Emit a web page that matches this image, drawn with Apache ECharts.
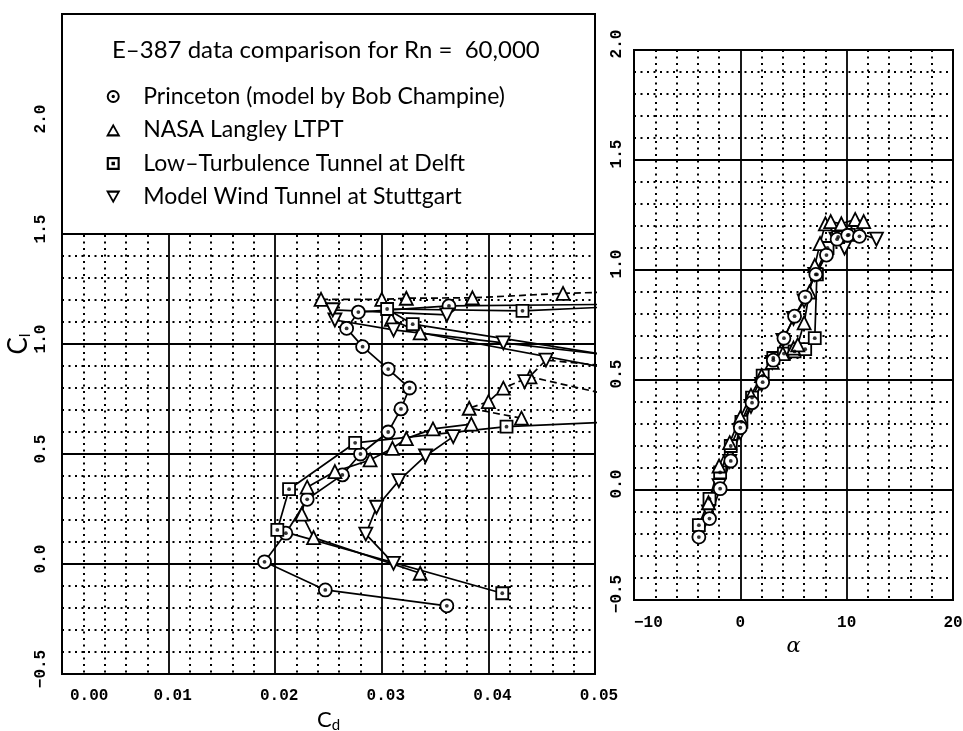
<!DOCTYPE html>
<html><head><meta charset="utf-8">
<script src="https://cdn.jsdelivr.net/npm/echarts@6/dist/echarts.min.js"></script>
<style>html,body{margin:0;padding:0;background:#fff}#c{width:963px;height:731px}</style>
</head><body><div id="c"></div>
<script>
// ---------- tick settings ----------
const cdTicks = [0, 0.01, 0.02, 0.03, 0.04, 0.05];
const alphaTicks = [-10, 0, 10, 20];
const clTicks = [-0.5, 0, 0.5, 1.0, 1.5, 2.0];

// ---------- left plot: Cl vs Cd (values > 0.05 are off-scale continuations) ----------
const princetonCd = [0.0361, 0.0247, 0.0190, 0.0210, 0.0230, 0.0263, 0.0280, 0.0306, 0.0318, 0.0326, 0.0306, 0.0282, 0.0267, 0.0278, 0.0363, 0.0512];
const princetonCl = [-0.19, -0.118, 0.01, 0.14, 0.294, 0.405, 0.50, 0.60, 0.705, 0.80, 0.886, 0.988, 1.071, 1.145, 1.173, 1.18];

const nasaLowCd = [0.0336, 0.0236, 0.0225, 0.0230, 0.0256, 0.0289, 0.0310, 0.0323, 0.0348, 0.0384];
const nasaLowCl = [-0.042, 0.12, 0.227, 0.349, 0.42, 0.473, 0.526, 0.57, 0.614, 0.636];
const nasaMidCd = [0.0431, 0.0382, 0.0400, 0.0414, 0.0439, 0.0512];
const nasaMidCl = [0.663, 0.708, 0.738, 0.799, 0.851, 0.77];
const nasaTopCd = [0.0243, 0.0300, 0.0323, 0.0385, 0.0470, 0.0512];
const nasaTopCl = [1.203, 1.203, 1.208, 1.21, 1.23, 1.236];
const nasaStallCd = [0.0309, 0.0336, 0.0512];
const nasaStallCl = [1.112, 1.051, 0.89];

const delftLowCd = [0.0413, 0.0202, 0.0213, 0.0275, 0.0417, 0.0512];
const delftLowCl = [-0.133, 0.155, 0.34, 0.551, 0.624, 0.645];
const delftTopCd = [0.0512, 0.0329, 0.0305, 0.0432, 0.0512];
const delftTopCl = [0.95, 1.09, 1.159, 1.151, 1.168];

const stuttLowCd = [0.0311, 0.0285, 0.0295, 0.0316, 0.0341, 0.0367];
const stuttLowCl = [0.003, 0.136, 0.258, 0.379, 0.491, 0.579];
const stuttMidCd = [0.0434, 0.0454, 0.0512];
const stuttMidCl = [0.829, 0.927, 0.90];
const stuttTopCd = [0.0254, 0.0256, 0.0311, 0.0414, 0.0512];
const stuttTopCl = [1.155, 1.109, 1.064, 1.005, 0.95];
const stuttTop2Cd = [0.0254, 0.0361];
const stuttTop2Cl = [1.155, 1.132];

// ---------- right plot: Cl vs alpha ----------
const princetonA = [-3.9, -2.9, -1.9, -0.9, 0.0, 1.1, 2.1, 3.1, 4.1, 5.1, 6.1, 7.1, 8.1, 9.1, 10.1, 11.2];
const princetonClA = [-0.214, -0.13, 0.006, 0.132, 0.283, 0.397, 0.49, 0.59, 0.69, 0.79, 0.877, 0.98, 1.068, 1.14, 1.158, 1.153];
const nasaA = [-3.0, -2.0, -1.0, 0.0, 1.0, 2.0, 3.0, 4.0, 5.0, 5.4, 6.0, 6.5, 7.0, 7.5, 8.0, 8.5, 9.5, 10.8, 11.6];
const nasaClA = [-0.058, 0.109, 0.215, 0.33, 0.43, 0.52, 0.58, 0.62, 0.645, 0.66, 0.76, 0.90, 1.02, 1.12, 1.21, 1.22, 1.21, 1.23, 1.22];
const delftA = [-3.9, -2.9, -1.9, -0.9, 0.1, 1.1, 2.1, 3.1, 4.1, 5.1, 6.1, 7.0, 7.2, 8.2, 9.2, 10.2];
const delftClA = [-0.16, -0.04, 0.08, 0.20, 0.31, 0.42, 0.52, 0.60, 0.62, 0.63, 0.64, 0.69, 0.98, 1.10, 1.15, 1.16];
const stuttA = [-3.0, -2.0, -1.0, 0.0, 1.0, 2.0, 3.0, 4.0, 5.0, 6.0, 7.0, 8.0, 9.0, 9.8, 11.0, 12.8];
const stuttClA = [-0.10, 0.02, 0.13, 0.26, 0.38, 0.48, 0.58, 0.68, 0.78, 0.86, 0.98, 1.08, 1.14, 1.10, 1.17, 1.14];

// ---------- labels ----------
const titleText = 'E–387 data comparison for Rn =  60,000';
const N_PR = 'Princeton (model by Bob Champine)';
const N_NA = 'NASA Langley LTPT';
const N_DE = 'Low–Turbulence Tunnel at Delft';
const N_ST = 'Model Wind Tunnel at Stuttgart';

// ---------- helpers ----------
const CD_MAX = 0.05;
function pairs(xs, ys, left) {
  return xs.map((x, i) => (left && x > CD_MAX) ? { value: [x, ys[i]], symbol: 'none' } : [x, ys[i]]);
}
function inRange(xs, ys, left) {
  const out = [];
  xs.forEach((x, i) => { if (!(left && x > CD_MAX)) out.push([x, ys[i]]); });
  return out;
}
const SYM = { circle: ['circle', 0], tri: ['triangle', 0], rect: ['rect', 0], dtri: ['triangle', 180] };
function lineS(name, xs, ys, sym, gi, dashed) {
  const left = gi === 0;
  const s = SYM[sym];
  return {
    type: 'line', name, xAxisIndex: gi, yAxisIndex: gi,
    data: pairs(xs, ys, left), symbol: s[0], symbolRotate: s[1],
    symbolSize: sym === 'rect' ? 12 : 13,
    showAllSymbol: true, clip: false, animation: false, silent: true,
    itemStyle: { color: '#fff', borderColor: '#000', borderWidth: 1.8 },
    lineStyle: { color: '#000', width: 1.7, type: dashed ? [7, 4] : 'solid' },
    z: 3
  };
}
function dotS(name, xs, ys, gi) {
  return {
    type: 'scatter', name, xAxisIndex: gi, yAxisIndex: gi,
    data: inRange(xs, ys, gi === 0), symbol: 'circle', symbolSize: 3.8,
    itemStyle: { color: '#000' }, animation: false, silent: true, z: 4
  };
}

const gridLine = { show: true, lineStyle: { color: '#000', width: 1.8 } };
const minorLine = { show: true, lineStyle: { color: '#000', width: 2, type: [2, 4.5] } };
const lblFont = { fontFamily: 'Liberation Mono', fontSize: 16, fontWeight: 'bold', color: '#000' };
function fmt1(v) { const t = Math.abs(v).toFixed(1); return v < 0 ? '−' + t : t; }

const xLeft = {
  type: 'value', gridIndex: 0, min: cdTicks[0], max: cdTicks[cdTicks.length - 1], interval: 0.01,
  axisLine: { show: false }, axisTick: { show: false },
  splitLine: gridLine, minorTick: { show: false, splitNumber: 5 }, minorSplitLine: minorLine,
  axisLabel: Object.assign({ margin: 14, padding: [0, 0, 0, 8], alignMinLabel: 'left',
    formatter: v => cdTicks.some(t => Math.abs(t - v) < 1e-9) ? v.toFixed(2) : '' }, lblFont),
  name: '{c|C}{s|d}', nameLocation: 'middle', nameGap: 32, nameMoveOverlap: false,
  nameTextStyle: { rich: { c: { fontFamily: 'Lato', fontSize: 22, color: '#000' }, s: { fontFamily: 'Lato', fontSize: 15, color: '#000', padding: [12, 0, 0, 0] } } }
};
const yLeft = {
  type: 'value', gridIndex: 0, min: -0.5, max: 2.5, interval: 0.5,
  axisLine: { show: false }, axisTick: { show: false },
  splitLine: gridLine, minorTick: { show: false, splitNumber: 5 }, minorSplitLine: minorLine,
  axisLabel: Object.assign({ rotate: 90, margin: 13, padding: [0, 0, 0, 10],
    formatter: v => clTicks.some(t => Math.abs(t - v) < 1e-9) ? fmt1(v) : '' }, lblFont),
  name: '{c|C}{s|l}', nameLocation: 'middle', nameGap: 29, nameRotate: 90, nameMoveOverlap: false,
  nameTextStyle: { rich: { c: { fontFamily: 'Lato', fontSize: 26, color: '#000' }, s: { fontFamily: 'Lato', fontSize: 16, color: '#000', padding: [12, 0, 0, 0] } } }
};
const xRight = {
  type: 'value', gridIndex: 1, min: alphaTicks[0], max: alphaTicks[alphaTicks.length - 1], interval: 10,
  axisLine: { show: false }, axisTick: { show: false },
  splitLine: gridLine, minorTick: { show: false, splitNumber: 5 }, minorSplitLine: minorLine,
  axisLabel: Object.assign({ margin: 15, alignMinLabel: 'left', formatter: v => v < 0 ? '−' + Math.abs(v) : String(v) }, lblFont),
  name: 'α', nameLocation: 'middle', nameGap: 36, nameMoveOverlap: false,
  nameTextStyle: { fontFamily: 'DejaVu Serif', fontStyle: 'italic', fontSize: 21, color: '#000' }
};
const yRight = {
  type: 'value', gridIndex: 1, min: -0.5, max: 2.0, interval: 0.5,
  axisLine: { show: false }, axisTick: { show: false },
  splitLine: gridLine, minorTick: { show: false, splitNumber: 5 }, minorSplitLine: minorLine,
  axisLabel: Object.assign({ rotate: 90, margin: 9, padding: [0, 0, 0, 12], formatter: v => fmt1(v) }, lblFont)
};

// legend icons (outline shapes with holes, filled black)
const ICON_CIRC = 'path://M0,-10A10,10,0,1,1,0,10A10,10,0,1,1,0,-10ZM0,-7A7,7,0,1,0,0,7A7,7,0,1,0,0,-7ZM0,-2.6A2.6,2.6,0,1,1,0,2.6A2.6,2.6,0,1,1,0,-2.6Z';
const ICON_TRI = 'path://M0,-10L10,8L-10,8ZM0,-4.8L-5.6,5L5.6,5Z';
const ICON_RECT = 'path://M-9,-9L9,-9L9,9L-9,9ZM-6,-6L-6,6L6,6L6,-6ZM-2.4,-2.4L2.4,-2.4L2.4,2.4L-2.4,2.4Z';
const ICON_DTRI = 'path://M0,10L-10,-8L10,-8ZM0,4.8L5.6,-5L-5.6,-5Z';

const series = [
  // legend box covering the upper part of the left plot
  { type: 'line', name: '_box', xAxisIndex: 0, yAxisIndex: 0, data: [[0, 1.5]], symbol: 'none', lineStyle: { width: 0 }, silent: true, animation: false, z: 5,
    markArea: { silent: true, itemStyle: { color: '#fff', borderColor: '#000', borderWidth: 2 }, data: [[{ coord: [cdTicks[0], 1.5] }, { coord: [cdTicks[cdTicks.length - 1], 2.5] }]] } },

  lineS(N_PR, princetonCd, princetonCl, 'circle', 0, false),
  dotS(N_PR, princetonCd, princetonCl, 0),
  lineS(N_NA, nasaLowCd, nasaLowCl, 'tri', 0, false),
  lineS(N_NA, nasaMidCd, nasaMidCl, 'tri', 0, true),
  lineS(N_NA, nasaTopCd, nasaTopCl, 'tri', 0, true),
  lineS(N_NA, nasaStallCd, nasaStallCl, 'tri', 0, false),
  lineS(N_DE, delftLowCd, delftLowCl, 'rect', 0, false),
  dotS(N_DE, delftLowCd, delftLowCl, 0),
  lineS(N_DE, delftTopCd, delftTopCl, 'rect', 0, false),
  dotS(N_DE, delftTopCd, delftTopCl, 0),
  lineS(N_ST, stuttLowCd, stuttLowCl, 'dtri', 0, false),
  lineS(N_ST, stuttMidCd, stuttMidCl, 'dtri', 0, true),
  lineS(N_ST, stuttTopCd, stuttTopCl, 'dtri', 0, false),
  lineS(N_ST, stuttTop2Cd, stuttTop2Cl, 'dtri', 0, false),

  lineS(N_ST, stuttA, stuttClA, 'dtri', 1, false),
  lineS(N_DE, delftA, delftClA, 'rect', 1, false),
  dotS(N_DE, delftA, delftClA, 1),
  lineS(N_NA, nasaA, nasaClA, 'tri', 1, false),
  lineS(N_PR, princetonA, princetonClA, 'circle', 1, false),
  dotS(N_PR, princetonA, princetonClA, 1)
];

const chart = echarts.init(document.getElementById('c'), null, { renderer: 'canvas' });
chart.setOption({
  backgroundColor: '#fff',
  animation: false,
  title: { text: titleText, left: 112, top: 38, padding: 0, z: 10,
    textStyle: { fontFamily: 'Lato', fontSize: 24, fontWeight: 'normal', color: '#000' } },
  legend: {
    orient: 'vertical', left: 106, top: 85, padding: 0, itemWidth: 50, itemHeight: 13, itemGap: 10.5,
    selectedMode: false, z: 10,
    itemStyle: { color: '#000', borderWidth: 0 },
    textStyle: { fontFamily: 'Lato', fontSize: 23, color: '#000', lineHeight: 22 },
    data: [
      { name: N_PR, icon: ICON_CIRC },
      { name: N_NA, icon: ICON_TRI },
      { name: N_DE, icon: ICON_RECT },
      { name: N_ST, icon: ICON_DTRI }
    ]
  },
  grid: [
    { left: 62, top: 14, width: 533, height: 660, show: true, borderColor: '#000', borderWidth: 2, outerBoundsMode: 'none', containLabel: false },
    { left: 634, top: 50, width: 319, height: 550, show: true, borderColor: '#000', borderWidth: 2, outerBoundsMode: 'none', containLabel: false }
  ],
  xAxis: [xLeft, xRight],
  yAxis: [yLeft, yRight],
  series
});
</script></body></html>
